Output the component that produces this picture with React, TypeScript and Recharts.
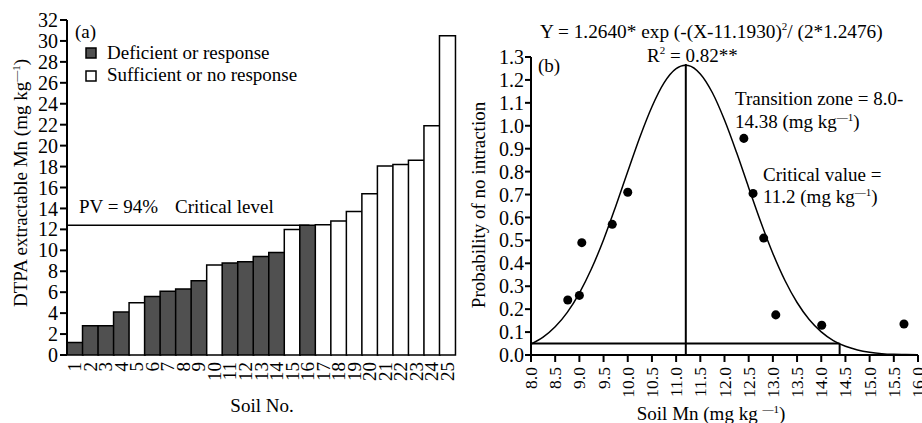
import { BarChart, Bar, Cell, XAxis, YAxis, ReferenceLine, ComposedChart, Line, Scatter } from 'recharts';

const FONT = 'Liberation Serif';
const DARK = '#505050';

// (a) DTPA extractable Mn per soil
const soilNo = ['1', '2', '3', '4', '5', '6', '7', '8', '9', '10', '11', '12', '13', '14', '15', '16', '17', '18', '19', '20', '21', '22', '23', '24', '25'];
const dtpaMn = [1.2, 2.8, 2.8, 4.1, 5.0, 5.6, 6.1, 6.3, 7.1, 8.6, 8.8, 8.9, 9.4, 9.8, 12.0, 12.4, 12.45, 12.8, 13.7, 15.4, 18.05, 18.2, 18.6, 21.9, 30.5];
// D = deficient or response, S = sufficient or no response
const response = ['D', 'D', 'D', 'D', 'S', 'D', 'D', 'D', 'D', 'S', 'D', 'D', 'D', 'D', 'S', 'D', 'S', 'S', 'S', 'S', 'S', 'S', 'S', 'S', 'S'];
const mnTicks = [0, 2, 4, 6, 8, 10, 12, 14, 16, 18, 20, 22, 24, 26, 28, 30, 32];
const bandEdges = [0, 1, 2, 3, 4, 5, 6, 7, 8, 9, 10, 11, 12, 13, 14, 15, 16, 17, 18, 19, 20, 21, 22, 23, 24, 25];
const criticalLevel = 12.4;

// (b) probability of no interaction vs soil Mn
const obsMn = [8.76, 9.0, 9.05, 9.68, 10.0, 12.4, 12.59, 12.81, 13.06, 14.01, 15.71];
const obsProb = [0.24, 0.26, 0.49, 0.57, 0.71, 0.945, 0.705, 0.51, 0.175, 0.13, 0.135];
const curveMn = [8.0, 8.25, 8.5, 8.75, 9.0, 9.25, 9.5, 9.75, 10.0, 10.25, 10.5, 10.75, 11.0, 11.19, 11.25, 11.5, 11.75, 12.0, 12.25, 12.5, 12.75, 13.0, 13.25, 13.5, 13.75, 14.0, 14.25, 14.5, 14.75, 15.0, 15.25, 15.5, 15.75, 16.0];
const curveProb = [0.048, 0.078, 0.123, 0.186, 0.27, 0.376, 0.503, 0.648, 0.8, 0.95, 1.083, 1.187, 1.249, 1.264, 1.263, 1.226, 1.144, 1.025, 0.883, 0.73, 0.58, 0.443, 0.325, 0.229, 0.155, 0.101, 0.063, 0.038, 0.022, 0.012, 0.006, 0.003, 0.002, 0.001];
const soilMnTicks = [8, 8.5, 9, 9.5, 10, 10.5, 11, 11.5, 12, 12.5, 13, 13.5, 14, 14.5, 15, 15.5, 16];
const probTicks = [0, 0.1, 0.2, 0.3, 0.4, 0.5, 0.6, 0.7, 0.8, 0.9, 1.0, 1.1, 1.2, 1.3];
const criticalValue = 11.2;
const transitionHigh = 14.38;
const cutoffProb = 0.05;
const peakProb = 1.27;

const barData = soilNo.map((s, i) => ({ soil: s, mn: dtpaMn[i], group: response[i] }));
const obsData = obsMn.map((x, i) => ({ x, y: obsProb[i] }));
const curveData = curveMn.map((x, i) => ({ x, y: curveProb[i] }));

const axisLine = { stroke: '#000', strokeWidth: 2 };
const tickLine = { stroke: '#000', strokeWidth: 2 };
const tickText = { fontSize: 20, fontFamily: FONT, fill: '#000' };

function RotTick(props: any) {
    const { x, y, payload, fontSize, fmt } = props;
    const label = fmt ? fmt(payload.value) : payload.value;
    return (
        <text x={x} y={y} transform={`rotate(-90 ${x} ${y})`} textAnchor="end" dominantBaseline="central"
            fontSize={fontSize} fontFamily={FONT} fill="#000">{label}</text>
    );
}

function Sup() {
    return <tspan dy={-7} fontSize={11}>—1</tspan>;
}

function Overlay() {
    const t = { fill: '#000', fontFamily: FONT };
    return (
        <svg width={922} height={423} style={{ position: 'absolute', left: 0, top: 0, pointerEvents: 'none' }}>
            {/* panel (a) */}
            <text {...t} x={27} y={183} fontSize={19} textAnchor="middle" transform="rotate(-90 27 183)">
                DTPA extractable Mn (mg kg<Sup /><tspan dy={7}>)</tspan>
            </text>
            <text {...t} x={262} y={412} fontSize={19} textAnchor="middle">Soil No.</text>
            <text {...t} x={75} y={38} fontSize={19}>(a)</text>
            <rect x={86} y={48} width={10} height={10} fill={DARK} stroke="#000" strokeWidth={1.5} />
            <text {...t} x={107} y={59} fontSize={19}>Deficient or response</text>
            <rect x={86} y={71} width={10} height={10} fill="#fff" stroke="#000" strokeWidth={1.5} />
            <text {...t} x={107} y={81} fontSize={19}>Sufficient or no response</text>
            <text {...t} x={79} y={213} fontSize={19}>PV = 94%</text>
            <text {...t} x={175} y={213} fontSize={19}>Critical level</text>

            {/* panel (b) */}
            <text {...t} x={485} y={205} fontSize={19} textAnchor="middle" transform="rotate(-90 485 205)">
                Probability of no intraction
            </text>
            <text {...t} x={711} y={420} fontSize={19} textAnchor="middle">
                Soil Mn (mg kg <Sup /><tspan dy={7}>)</tspan>
            </text>
            <text {...t} x={540} y={38} fontSize={19.3}>
                Y = 1.2640* exp (-(X-11.1930)<tspan dy={-8} fontSize={11}>2</tspan><tspan dy={8}>/ (2*1.2476)</tspan>
            </text>
            <text {...t} x={647} y={62} fontSize={19}>
                R<tspan dy={-8} fontSize={11}>2</tspan><tspan dy={8}> = 0.82**</tspan>
            </text>
            <text {...t} x={538} y={72} fontSize={19}>(b)</text>
            <text {...t} x={735} y={105} fontSize={19}>Transition zone = 8.0-</text>
            <text {...t} x={735} y={128} fontSize={19}>14.38 (mg kg<Sup /><tspan dy={7}>)</tspan></text>
            <text {...t} x={763} y={181} fontSize={19}>Critical value =</text>
            <text {...t} x={763} y={203} fontSize={19}>11.2 (mg kg<Sup /><tspan dy={7}>)</tspan></text>
        </svg>
    );
}

function PanelA() {
    return (
        <BarChart width={470} height={423} data={barData} margin={{ top: 20, right: 15, left: 0, bottom: 0 }}
            barCategoryGap={0}>
            <XAxis xAxisId="num" type="number" domain={[0, 25]} ticks={bandEdges} tick={false} height={0}
                axisLine={axisLine} tickLine={tickLine} tickSize={6} allowDataOverflow />
            <XAxis xAxisId="cat" dataKey="soil" interval={0} height={68} axisLine={false} tickLine={false}
                tickSize={6} tickMargin={1} tick={<RotTick fontSize={19} />} />
            <YAxis domain={[0, 32]} ticks={mnTicks} width={67} axisLine={axisLine} tickLine={tickLine}
                tickSize={7} tickMargin={2} interval={0} tick={tickText} />
            <Bar xAxisId="cat" dataKey="mn" stroke="#000" strokeWidth={1.5} isAnimationActive={false}>
                {barData.map((d, i) => (
                    <Cell key={`c-${i}`} fill={d.group === 'D' ? DARK : '#fff'} />
                ))}
            </Bar>
            <ReferenceLine xAxisId="num" segment={[{ x: 0, y: criticalLevel }, { x: 15, y: criticalLevel }]}
                stroke="#000" strokeWidth={1.5} />
        </BarChart>
    );
}

function PanelB() {
    return (
        <ComposedChart width={452} height={423} margin={{ top: 57, right: 4, left: 0, bottom: 0 }}>
            <XAxis dataKey="x" type="number" domain={[8, 16]} ticks={soilMnTicks} interval={0} height={68}
                axisLine={axisLine} tickLine={tickLine} tickSize={7} tickMargin={5} allowDataOverflow
                tick={<RotTick fontSize={17.5} fmt={(v: number) => v.toFixed(1)} />} />
            <YAxis type="number" domain={[0, 1.3]} ticks={probTicks} interval={0} width={61}
                axisLine={axisLine} tickLine={tickLine} tickSize={6} tickMargin={1}
                tickFormatter={(v: number) => v.toFixed(1)} tick={tickText} />
            <ReferenceLine segment={[{ x: 8, y: cutoffProb }, { x: transitionHigh, y: cutoffProb }]}
                stroke="#000" strokeWidth={2} />
            <ReferenceLine segment={[{ x: transitionHigh, y: 0 }, { x: transitionHigh, y: cutoffProb }]}
                stroke="#000" strokeWidth={2} />
            <ReferenceLine segment={[{ x: criticalValue, y: 0 }, { x: criticalValue, y: peakProb }]}
                stroke="#000" strokeWidth={2} />
            <Line data={curveData} dataKey="y" type="monotone" dot={false} stroke="#000" strokeWidth={1.5}
                isAnimationActive={false} />
            <Scatter data={obsData} dataKey="y" fill="#000" isAnimationActive={false} />
        </ComposedChart>
    );
}

export default function App() {
    return (
        <div style={{ position: 'absolute', left: 0, top: 0, width: 922, height: 423, background: '#fff', fontFamily: FONT }}>
            <div style={{ position: 'absolute', left: 0, top: 0 }}>
                <PanelA />
            </div>
            <div style={{ position: 'absolute', left: 470, top: 0 }}>
                <PanelB />
            </div>
            <Overlay />
        </div>
    );
}
